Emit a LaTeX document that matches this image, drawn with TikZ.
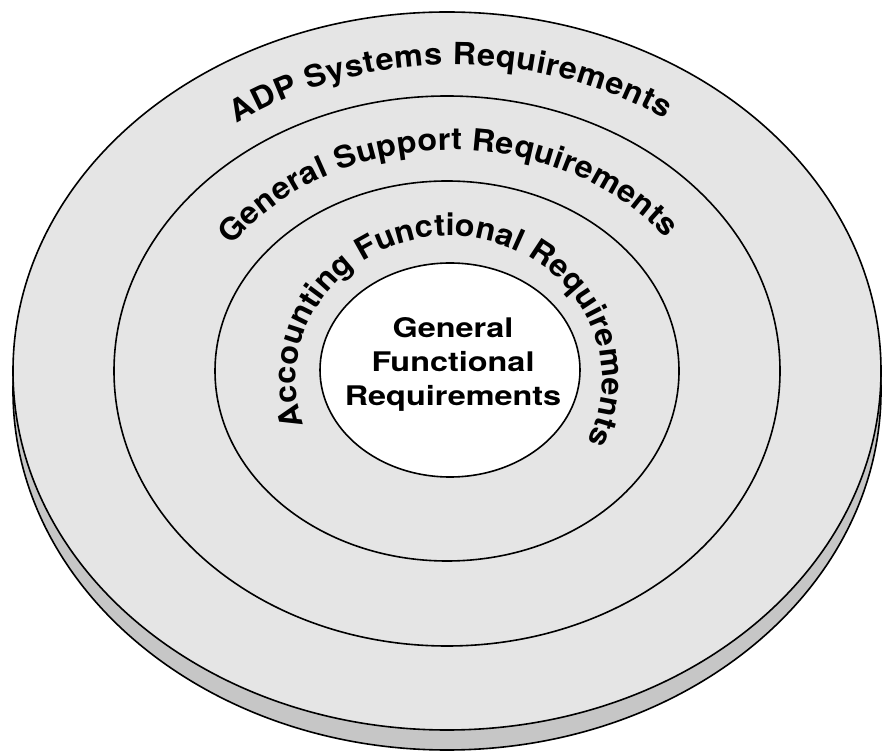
\documentclass[tikz,border=0pt]{standalone}
\usepackage{fontspec}
\newfontfamily\lab{TeX Gyre Heros}[FakeStretch=1.2]
\newfontfamily\labc{TeX Gyre Heros}[FakeStretch=1.06]
\usetikzlibrary{decorations.text}
\begin{document}
\begin{tikzpicture}[x=1pt,y=1pt,
  ring/.style={draw=black, line width=1.6pt},
  curvetext/.style={decorate, decoration={text along path, text align=fit to path,
     text={|\labc\bfseries\fontsize{30.5}{34}\selectfont|#1}}}]
\useasboundingbox (0,0) rectangle (882,752);
\coordinate (c) at (447,381);
\coordinate (crim) at (447,361);
\coordinate (cin) at (450,382);
\coordinate (cadp) at (455,381);
\coordinate (cgsr) at (452,381);
\coordinate (cafr) at (449,372);
% rim of the disk
\filldraw[ring, fill=gray!45] (crim) ellipse [x radius=434, y radius=359];
% top face
\filldraw[ring, fill=gray!20] (c) ellipse [x radius=434, y radius=359];
\draw[ring] (c) ellipse [x radius=333, y radius=275];
\draw[ring] (c) ellipse [x radius=232, y radius=190];
\filldraw[ring, fill=white] (cin) ellipse [x radius=130, y radius=107];
% curved labels
\path[curvetext=ADP Systems Requirements] (cadp) ++(126.1:370 and 306)
  arc[start angle=126.1, end angle=55.4, x radius=370, y radius=306];
\path[curvetext=General Support Requirements] (cgsr) ++(145.6:267 and 221)
  arc[start angle=145.6, end angle=36.7, x radius=267, y radius=221];
\path[curvetext=Accounting Functional Requirements] (cafr) ++(198.2:153 and 144)
  arc[start angle=198.2, end angle=-25.5, x radius=153, y radius=144];
% core label
\node[font=\lab\bfseries\fontsize{27}{34}\selectfont, align=center] (core) at (453,388)
  {General\\Functional\\Requirements};
\end{tikzpicture}
\end{document}
